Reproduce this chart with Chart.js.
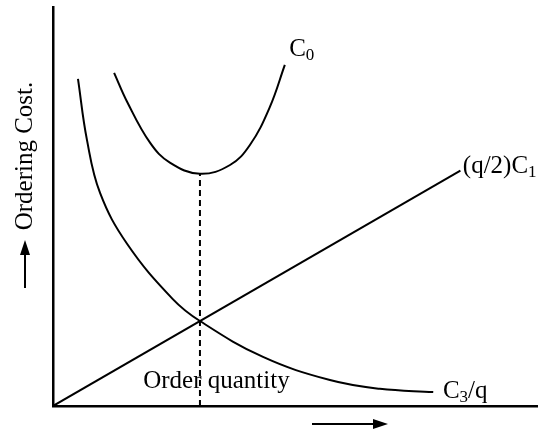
<!DOCTYPE html>
<html>
<head>
<meta charset="utf-8">
<script src="https://cdn.jsdelivr.net/npm/chart.js@4/dist/chart.umd.min.js"></script>
<style>
  body { margin: 0; background: #fff; }
  canvas { display: block; }
</style>
</head>
<body>
<canvas id="myChart" width="538" height="430"></canvas>
<script>
// total cost curve C0
const costQ = [12.6, 15.3, 20.0, 24.1, 30.3, 36.5, 40.6, 44.7, 47.8];
const costC0 = [83.5, 76.2, 66.0, 61.0, 58.2, 60.4, 65.4, 74.9, 85.5];
// ordering cost C3/q
const orderQ = [5.15, 7.0, 9.7, 15.3, 24.7, 30.3, 43.3, 57.1, 67.4, 78.4];
const orderC3 = [82.0, 66.7, 53.4, 40.6, 26.8, 21.3, 12.3, 6.5, 4.3, 3.5];
// holding cost (q/2)C1
const holdQ = [0, 84];
const holdC1 = [0, 59];
// optimum order quantity
const optQ = 30.3;
const optCost = 58.2;

const FONT = '"Liberation Serif", "Times New Roman", serif';

function pts(xs, ys) {
    return xs.map((x, i) => ({x: x, y: ys[i]}));
}

// labels, subscripts and arrows
const labels = {
    id: 'labels',
    afterDraw(chart) {
        const ctx = chart.ctx;
        const sx = chart.scales.x, sy = chart.scales.y;
        const area = chart.chartArea;
        ctx.save();
        ctx.fillStyle = '#000';
        ctx.strokeStyle = '#000';
        ctx.textBaseline = 'alphabetic';
        ctx.textAlign = 'left';

        function sub(main, small, x, y) {
            ctx.font = '25px ' + FONT;
            ctx.fillText(main, x, y);
            const w = ctx.measureText(main).width;
            ctx.font = '17px ' + FONT;
            ctx.fillText(small, x + w, y + 4);
            return w + ctx.measureText(small).width;
        }

        sub('C', '0', sx.getPixelForValue(48.7), sy.getPixelForValue(87.7));
        sub('(q/2)C', '1', sx.getPixelForValue(84.5), sy.getPixelForValue(58.5));
        let w = sub('C', '3', sx.getPixelForValue(80.4), sy.getPixelForValue(2));
        ctx.font = '25px ' + FONT;
        ctx.fillText('/q', sx.getPixelForValue(80.4) + w, sy.getPixelForValue(2));

        ctx.fillText('Order quantity', sx.getPixelForValue(18.6), sy.getPixelForValue(4.5));

        // y axis caption
        ctx.save();
        ctx.translate(area.left - 28, 156);
        ctx.rotate(-Math.PI / 2);
        ctx.textAlign = 'center';
        ctx.textBaseline = 'middle';
        ctx.fillText('Ordering Cost.', 0, 0);
        ctx.restore();

        function arrow(x1, y1, x2, y2) {
            const a = Math.atan2(y2 - y1, x2 - x1);
            const hl = 15, hw = 5;
            ctx.lineWidth = 2;
            ctx.beginPath();
            ctx.moveTo(x1, y1);
            ctx.lineTo(x2 - hl * Math.cos(a), y2 - hl * Math.sin(a));
            ctx.stroke();
            ctx.beginPath();
            ctx.moveTo(x2, y2);
            ctx.lineTo(x2 - hl * Math.cos(a) - hw * Math.sin(a), y2 - hl * Math.sin(a) + hw * Math.cos(a));
            ctx.lineTo(x2 - hl * Math.cos(a) + hw * Math.sin(a), y2 - hl * Math.sin(a) - hw * Math.cos(a));
            ctx.closePath();
            ctx.fill();
        }
        arrow(area.left - 28, 288, area.left - 28, 240);
        arrow(312, area.bottom + 18, 388, area.bottom + 18);
        ctx.restore();
    }
};

const line = {borderColor: '#000', borderWidth: 2, pointRadius: 0, showLine: true, fill: false};

new Chart(document.getElementById('myChart').getContext('2d'), {
    type: 'scatter',
    data: {
        datasets: [
            Object.assign({label: 'C0', data: pts(costQ, costC0), tension: 0.4}, line),
            Object.assign({label: 'C3/q', data: pts(orderQ, orderC3), tension: 0.4}, line),
            Object.assign({label: '(q/2)C1', data: pts(holdQ, holdC1)}, line),
            Object.assign({label: 'Order quantity', data: [{x: optQ, y: 0}, {x: optQ, y: optCost}], borderDash: [6, 4]}, line)
        ]
    },
    options: {
        responsive: false,
        animation: false,
        devicePixelRatio: 1,
        layout: {padding: {left: 45, right: 0, top: 7, bottom: 16}},
        plugins: {legend: {display: false}, tooltip: {enabled: false}},
        scales: {
            x: {
                type: 'linear', min: 0, max: 100,
                grid: {display: false},
                ticks: {display: false},
                border: {color: '#000', width: 2.5}
            },
            y: {
                type: 'linear', min: 0, max: 100,
                grid: {display: false},
                ticks: {display: false},
                border: {color: '#000', width: 2.5}
            }
        }
    },
    plugins: [labels]
});
</script>
</body>
</html>
